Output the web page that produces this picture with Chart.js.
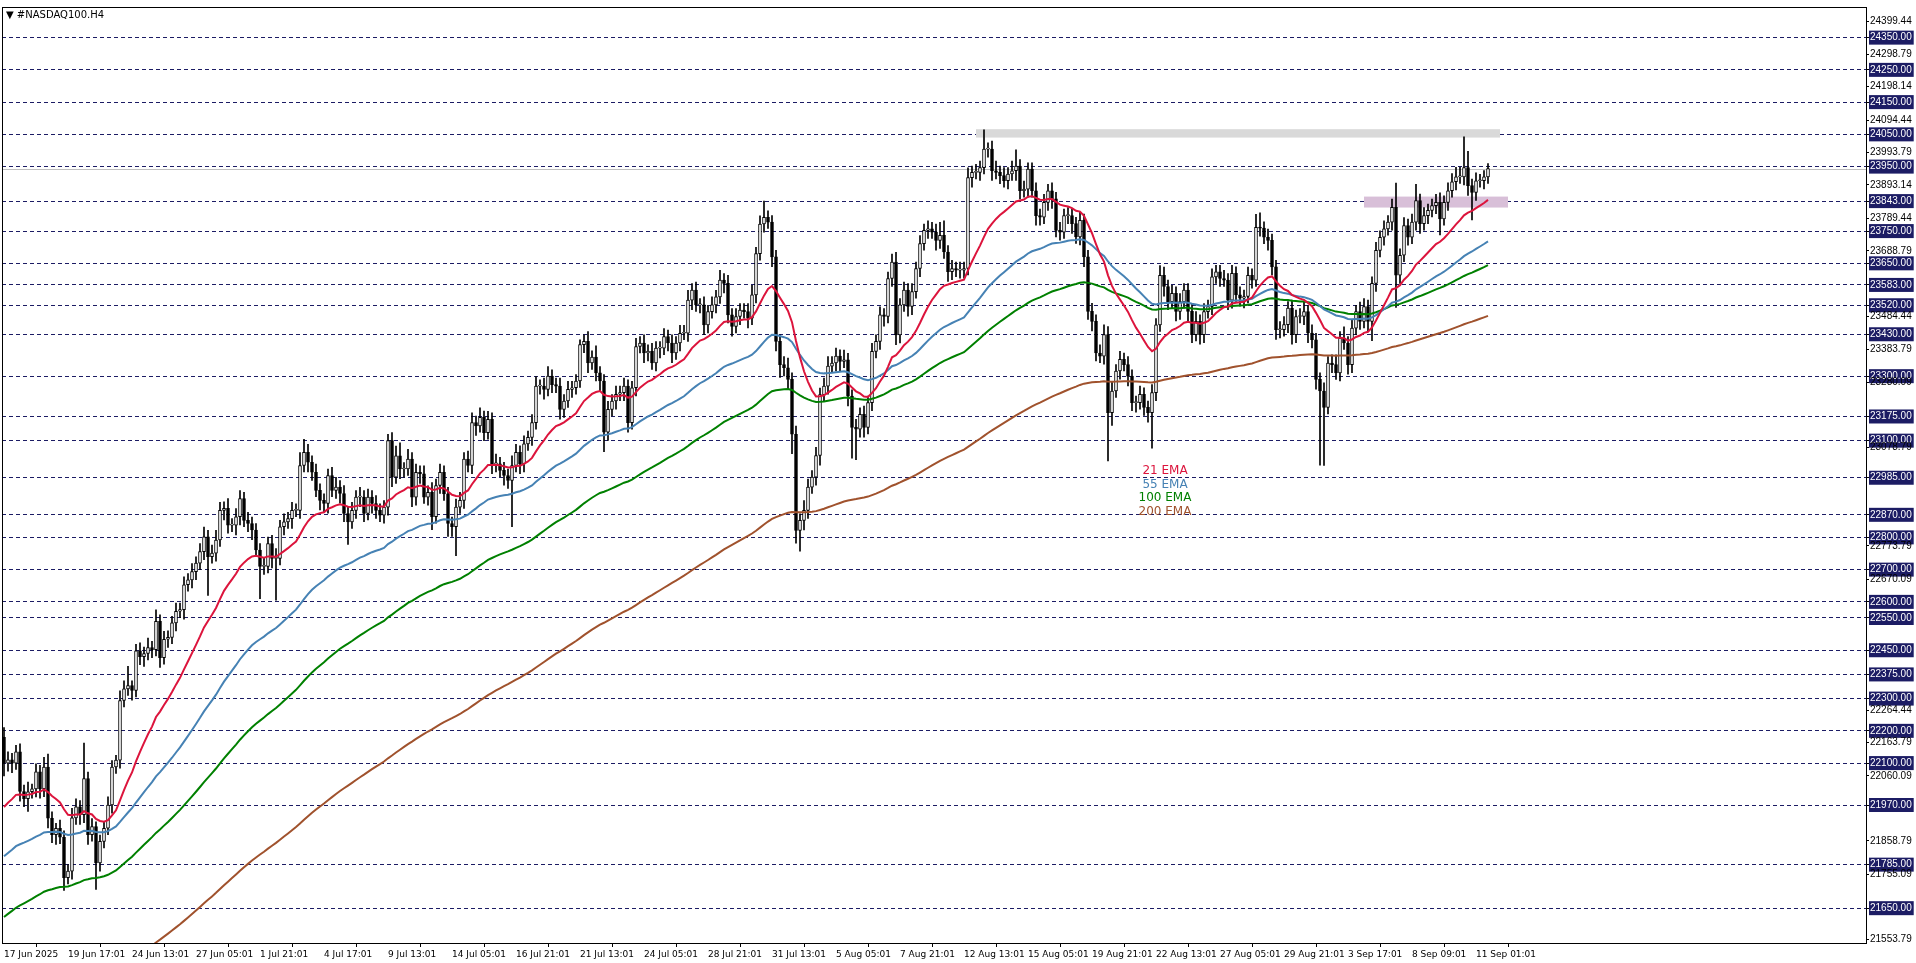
<!DOCTYPE html>
<html lang="en">
<head>
<meta charset="UTF-8">
<title>#NASDAQ100.H4</title>
<style>
    * { margin: 0; padding: 0; box-sizing: border-box; }
    body { background: #fff; width: 1916px; height: 963px; overflow: hidden; }
    #wrap { position: relative; width: 1916px; height: 963px; }
</style>
</head>
<body>
<div id="wrap"><canvas id="chart" width="1916" height="963"></canvas></div>
<script src="https://cdn.jsdelivr.net/npm/chart.js"></script>
<script>
// H4 closes (bar 0 = 17 Jun 2025 01:01)
const closes = [
    22100,22110,22100,22135,22012,21990,22011,22020,22073,22021,22088,21929,21878,21898,21870,21745,
    21765,21930,21964,21940,22052,21878,21903,21790,21857,21898,21970,22088,22109,22294,22330,22340,
    22325,22448,22430,22440,22458,22452,22540,22427,22484,22490,22535,22571,22576,22653,22668,22694,
    22720,22756,22802,22740,22751,22792,22884,22890,22838,22838,22864,22920,22853,22843,22823,22761,
    22710,22710,22781,22735,22735,22833,22848,22858,22884,22884,23023,23064,23033,23002,22946,22915,
    22905,22992,22946,22956,22936,22874,22848,22884,22925,22925,22874,22925,22905,22884,22869,22894,
    23100,22987,23053,23012,23012,23043,22925,23002,22997,22925,22940,22864,22961,23002,22935,22843,
    22833,22894,22915,23043,23023,23156,23146,23172,23125,23166,23028,23028,23008,22992,22977,23023,
    23064,23028,23090,23110,23156,23269,23269,23259,23300,23274,23269,23197,23223,23259,23264,23285,
    23398,23408,23341,23359,23310,23285,23126,23197,23223,23244,23249,23269,23156,23264,23392,23403,
    23372,23377,23341,23387,23387,23423,23403,23372,23403,23433,23433,23536,23567,23521,23521,23459,
    23500,23521,23546,23598,23588,23490,23454,23485,23505,23500,23480,23552,23680,23772,23793,23778,
    23670,23408,23336,23326,23290,23120,22822,22853,22884,22956,22987,23054,23243,23269,23331,23341,
    23362,23346,23351,23238,23141,23136,23182,23141,23218,23377,23408,23490,23485,23603,23654,23428,
    23521,23567,23516,23562,23634,23711,23752,23757,23747,23721,23737,23685,23624,23634,23629,23629,
    23634,23916,23932,23932,23947,24004,24004,23937,23932,23922,23906,23927,23937,23952,23875,23880,
    23942,23875,23798,23793,23839,23875,23850,23752,23747,23798,23798,23773,23732,23783,23670,23501,
    23470,23372,23362,23429,23187,23254,23316,23352,23336,23300,23218,23218,23244,23203,23187,23249,
    23459,23613,23578,23531,23557,23501,23531,23567,23501,23429,23470,23429,23500,23516,23608,23624,
    23603,23598,23536,23619,23552,23542,23547,23613,23598,23762,23759,23731,23721,23639,23444,23444,
    23460,23511,23429,23485,23485,23500,23434,23413,23290,23254,23203,23341,23336,23310,23418,23403,
    23336,23449,23500,23470,23516,23470,23588,23690,23731,23757,23778,23824,23613,23675,23767,23731,
    23778,23845,23773,23798,23814,23829,23839,23788,23839,23875,23903,23918,23918,23947,23891,23870,
    23906,23906,23918,23944
];
const firstOpen = 22180;

// wick length above / below the body, in points
const wickUp = [
    30,25,20,20,25,20,30,15,25,20,30,40,20,15,25,20,
    20,30,25,20,110,20,25,15,20,20,25,20,15,30,25,60,
    15,20,25,20,30,20,35,20,25,20,20,25,20,25,20,25,
    20,25,30,20,25,30,25,20,30,20,25,25,20,25,20,20,
    20,25,20,25,30,20,25,20,25,20,40,40,25,20,25,20,
    20,20,25,30,20,25,20,25,20,30,20,25,20,25,20,20,
    20,25,30,40,20,30,20,25,20,25,20,30,20,25,20,20,
    20,25,25,20,25,30,20,30,20,25,20,30,20,25,20,30,
    25,20,25,20,25,30,20,25,30,20,20,25,20,25,20,20,
    15,20,30,20,35,20,20,25,20,25,20,25,20,20,25,20,
    25,20,25,20,20,25,20,25,20,25,25,30,20,25,20,25,
    20,25,20,30,20,25,20,25,20,20,25,30,20,25,50,20,
    20,20,20,25,30,20,25,20,30,25,20,25,20,25,30,20,
    25,20,30,20,20,25,20,25,20,25,20,25,20,20,25,30,
    20,25,20,25,20,25,20,25,20,25,40,45,20,25,20,25,
    20,30,20,25,20,60,20,25,30,20,25,20,30,50,20,25,
    20,20,25,20,25,20,25,20,25,20,25,20,20,25,20,20,
    25,20,25,30,25,30,20,25,20,25,20,20,25,20,20,25,
    20,30,25,20,25,20,25,20,20,25,30,20,25,20,25,20,
    20,25,20,25,20,25,20,25,20,40,45,20,25,20,20,25,
    25,20,25,20,25,30,20,25,20,20,25,20,25,30,20,35,
    20,25,20,30,25,20,20,25,20,25,20,25,75,20,25,20,
    25,50,20,25,20,20,25,30,20,25,25,30,30,95,50,20,
    25,20,20,15
];
const wickDn = [
    40,25,30,20,30,25,40,20,25,30,25,30,25,30,20,40,
    20,25,20,30,25,30,20,82,25,20,20,25,20,25,20,20,
    30,20,25,30,20,25,20,30,20,25,20,25,20,30,20,25,
    25,20,25,120,20,25,20,30,25,20,30,25,20,25,30,20,
    100,25,20,30,130,20,25,20,30,20,25,20,30,25,20,30,
    25,30,20,25,30,25,70,20,25,30,25,20,30,25,20,25,
    25,30,20,30,25,20,30,25,30,20,25,40,20,25,20,40,
    30,90,20,25,20,25,30,20,25,20,30,25,20,30,25,144,
    20,30,25,20,25,20,25,30,20,25,20,30,25,20,25,20,
    20,25,30,20,25,30,60,25,20,25,20,25,30,20,25,20,
    30,25,20,25,30,20,25,30,20,25,20,25,30,20,25,30,
    25,20,25,20,30,25,30,20,25,20,30,20,25,20,25,20,
    30,30,40,25,30,60,40,65,30,25,20,25,30,20,25,20,
    25,30,20,30,95,95,25,30,20,25,20,25,30,20,25,30,
    25,20,30,25,20,25,20,25,20,30,25,20,30,25,20,25,
    25,20,30,20,25,20,25,30,20,25,20,25,20,30,25,20,
    25,20,30,25,20,25,30,20,25,20,25,30,20,25,30,25,
    30,25,20,25,150,40,20,25,20,30,25,30,20,25,30,110,
    25,20,30,25,20,30,25,20,30,25,20,30,25,20,25,20,
    25,20,30,25,20,25,30,20,25,20,25,20,30,25,30,25,
    20,25,30,25,20,25,30,25,30,230,180,20,25,20,25,20,
    30,25,20,25,20,30,60,25,20,25,20,25,100,25,20,25,
    20,25,30,20,25,20,25,50,20,25,20,25,20,25,30,85,
    25,20,25,20
];

const totalSlots = 466;
const tickBars = [0,16,32,48,64,80,96,112,128,144,160,176,192,208,224,240,256,272,288,304,320,336,352,368];
const tickTexts = ["17 Jun 2025","19 Jun 17:01","24 Jun 13:01","27 Jun 05:01","1 Jul 21:01","4 Jul 17:01",
    "9 Jul 13:01","14 Jul 05:01","16 Jul 21:01","21 Jul 13:01","24 Jul 05:01","28 Jul 21:01","31 Jul 13:01",
    "5 Aug 05:01","7 Aug 21:01","12 Aug 13:01","15 Aug 05:01","19 Aug 21:01","22 Aug 13:01","27 Aug 05:01",
    "29 Aug 21:01","3 Sep 17:01","8 Sep 09:01","11 Sep 01:01"];

const levelTicks = [24350,24250,24150,24050,23950,23843,23750,23650,23583,23520,23430,23300,23175,23100,
    22985,22870,22800,22700,22600,22550,22450,22375,22300,22200,22100,21970,21785,21650];
const plainTicks = [24399.44,24298.79,24198.14,24094.44,23993.79,23893.14,23789.44,23688.79,23484.44,
    23383.79,23280.09,23078.79,22773.79,22670.09,22264.44,22163.79,22060.09,21858.79,21755.09,21553.79];

const emaPeriods = [21, 55, 100, 200];
const emaSeeds = [21950, 21800, 21613, 21280];
const emaNames = ["21 EMA", "55 EMA", "100 EMA", "200 EMA"];
const emaColors = ["#dc143c", "#4682b4", "#008000", "#a0522d"];

const resistanceZone = [24040, 24066];   // grey band
const supportZone = [23823, 23857];      // purple band
const hLine = 23943;

// build candle pieces
const labels = [];
for (let i = 0; i < totalSlots; i++) {
    const t = tickBars.indexOf(i);
    labels.push(t >= 0 ? tickTexts[t] : "");
}
const bodies = [], wicks = [], bodyFill = [];
closes.forEach((c, i) => {
    const o = i === 0 ? firstOpen : closes[i - 1];
    bodies.push([o, c]);
    wicks.push([Math.min(o, c) - wickDn[i], Math.max(o, c) + wickUp[i]]);
    bodyFill.push(c >= o ? "#ffffff" : "#000000");
});

function ema(period, seed) {
    const k = 2 / (period + 1);
    let v = seed;
    return closes.map(c => (v = c * k + v * (1 - k)));
}

const emaSets = emaPeriods.map((p, j) => ({
    type: "line",
    data: ema(p, emaSeeds[j]),
    borderColor: emaColors[j],
    borderWidth: 2,
    pointRadius: 0,
    tension: 0,
    order: 0
}));

const isLevel = v => levelTicks.some(l => Math.abs(l - v) < 0.001);

const overlay = {
    id: "overlay",
    beforeDatasetsDraw(chart) {
        const { ctx, scales: { x, y }, chartArea: a } = chart;
        ctx.save();
        ctx.fillStyle = "#d9d9d9";
        let x0 = x.getPixelForValue(243), x1 = x.getPixelForValue(374);
        ctx.fillRect(x0, y.getPixelForValue(resistanceZone[1]), x1 - x0,
            y.getPixelForValue(resistanceZone[0]) - y.getPixelForValue(resistanceZone[1]));
        ctx.fillStyle = "#d8bfd8";
        x0 = x.getPixelForValue(340); x1 = x.getPixelForValue(376);
        ctx.fillRect(x0, y.getPixelForValue(supportZone[1]), x1 - x0,
            y.getPixelForValue(supportZone[0]) - y.getPixelForValue(supportZone[1]));
        ctx.strokeStyle = "#c0c0c0";
        ctx.lineWidth = 1;
        const hy = Math.round(y.getPixelForValue(hLine)) + 0.5;
        ctx.beginPath(); ctx.moveTo(a.left, hy); ctx.lineTo(a.right, hy); ctx.stroke();
        ctx.restore();
    },
    afterDraw(chart) {
        const { ctx, chartArea: a } = chart;
        ctx.save();
        ctx.strokeStyle = "#000";
        ctx.lineWidth = 1;
        ctx.strokeRect(a.left + 0.5, a.top + 0.5, a.right - a.left, a.bottom - a.top);
        ctx.font = "10px 'DejaVu Sans'";
        ctx.fillStyle = "#000";
        ctx.textBaseline = "middle";
        ctx.fillText("▼ #NASDAQ100.H4", a.left + 4, a.top + 8);
        ctx.font = "12px 'DejaVu Sans'";
        ctx.textAlign = "center";
        emaNames.forEach((n, j) => {
            ctx.fillStyle = emaColors[j];
            ctx.fillText(n, 1165, 471 + j * 13.5);
        });
        ctx.restore();
    }
};

new Chart(document.getElementById("chart"), {
    type: "bar",
    data: {
        labels: labels,
        datasets: [
            { data: wicks, backgroundColor: "#000", barThickness: 1, grouped: false, order: 2 },
            { data: bodies, backgroundColor: bodyFill, borderColor: "#000", borderWidth: 1,
              borderSkipped: false, barThickness: 3, minBarLength: 1, grouped: false, order: 1 },
            ...emaSets
        ]
    },
    options: {
        responsive: false,
        animation: false,
        events: [],
        layout: { padding: { left: 2, top: 1, right: 0, bottom: 0 } },
        plugins: { legend: { display: false }, tooltip: { enabled: false } },
        scales: {
            x: {
                afterBuildTicks: s => { s.ticks = tickBars.map(v => ({ value: v })); },
                afterFit: s => { s.height = 20; },
                ticks: { autoSkip: false, maxRotation: 0, align: "start", padding: 2,
                         font: { family: "DejaVu Sans", size: 9 }, color: "#000" },
                grid: { drawOnChartArea: false, color: "#000", tickLength: 4 },
                border: { display: false }
            },
            y: {
                position: "right",
                min: 21542,
                max: 24445,
                afterBuildTicks: s => {
                    s.ticks = levelTicks.concat(plainTicks).sort((p, q) => q - p).map(v => ({ value: v }));
                },
                afterFit: s => { s.width = 50; },
                ticks: {
                    autoSkip: false,
                    padding: 1,
                    font: { family: "Liberation Sans", size: 10 },
                    color: c => isLevel(c.tick.value) ? "#ffffff" : "#000000",
                    showLabelBackdrop: c => isLevel(c.tick.value),
                    backdropColor: "#1c1c64",
                    backdropPadding: { top: 1, bottom: 1, left: 1, right: 2 },
                    callback: v => v.toFixed(2)
                },
                grid: {
                    color: c => c.tick && isLevel(c.tick.value) ? "#1c1c64" : "rgba(0,0,0,0)",
                    tickColor: "#000",
                    tickLength: 3,
                    lineWidth: 1
                },
                border: { display: false, dash: [4, 3] }
            }
        }
    },
    plugins: [overlay]
});
</script>
</body>
</html>
